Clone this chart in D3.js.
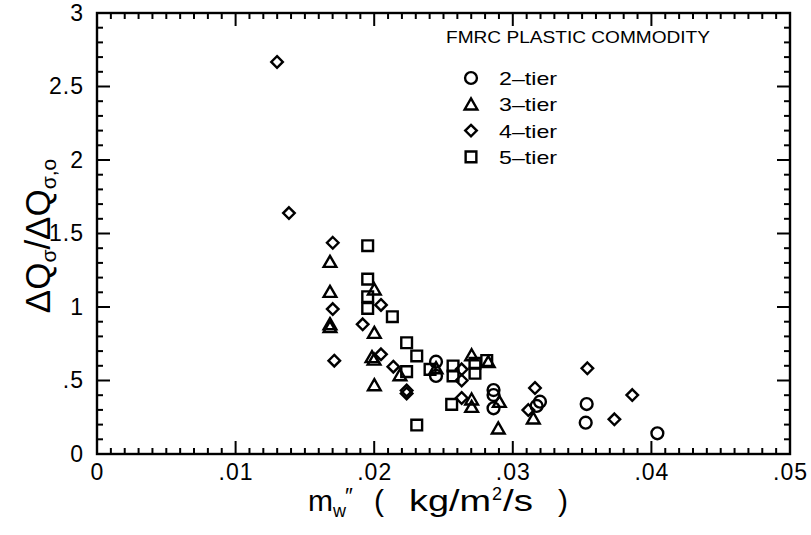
<!DOCTYPE html>
<html><head><meta charset="utf-8">
<script src="https://cdn.jsdelivr.net/npm/d3@7"></script>
<style>body{margin:0;background:#fff}svg{display:block}text{font-family:"Liberation Sans",Arial,sans-serif;fill:#000}</style>
</head><body><svg id="c" width="811" height="535"></svg>
<script>
// Data (x = m_w'' kg/m2/s, y = dQ/dQ0)
const tier2 = [[.02446,.628],[.02446,.531],[.02861,.435],[.02861,.401],[.02861,.311],[.03196,.356],[.03172,.327],[.03533,.340],[.03526,.213],[.04043,.141]];
const tier3 = [[.01681,1.308],[.01681,1.104],[.01681,.884],[.01681,.864],[.02001,1.12],[.02001,.825],[.01984,.66],[.01999,.643],[.02001,.469],[.02186,.537],[.02446,.585],[.02703,.673],[.02703,.372],[.02703,.322],[.02823,.626],[.02903,.356],[.02895,.175],[.03148,.243]];
const tier4 = [[.01299,2.667],[.01385,1.639],[.01701,1.437],[.01701,.986],[.01712,.635],[.02049,1.014],[.01917,.882],[.02049,.678],[.02138,.594],[.02234,.432],[.02234,.412],[.02631,.576],[.02631,.5],[.02631,.381],[.0316,.449],[.03112,.299],[.03538,.583],[.03733,.236],[.03862,.401]];
const tier5 = [[.01953,1.417],[.01953,1.19],[.01953,1.07],[.01953,.991],[.02131,.934],[.02234,.757],[.02307,.667],[.02234,.56],[.02403,.576],[.02307,.197],[.02569,.599],[.02569,.531],[.02559,.338],[.02727,.617],[.02727,.549],[.02812,.636]];
const seriesNames = ["2-tier","3-tier","4-tier","5-tier"];
const xTicks = [0,.01,.02,.03,.04,.05];
const xTickLabels = ["0",".01",".02",".03",".04",".05"];
const yTicks = [0,.5,1,1.5,2,2.5,3];
const yTickLabels = ["0",".5","1","1.5","2","2.5","3"];
const legendTitle = "FMRC  PLASTIC  COMMODITY";

const svg = d3.select("#c");
const L=97,R=790,T=13,B=454;
const x = d3.scaleLinear().domain([0,.05]).range([L,R]);
const y = d3.scaleLinear().domain([0,3]).range([B,T]);

const minorX = d3.range(0,51).map(i=>i*0.001);
const minorY = d3.range(0,31).map(i=>i*0.1);
function isMajorX(v){ return Math.abs(v*100-Math.round(v*100))<1e-6; }
function isMajorY(v){ return Math.abs(v*2-Math.round(v*2))<1e-6; }

svg.append("rect").attr("x",L).attr("y",T).attr("width",R-L).attr("height",B-T).attr("fill","none").attr("stroke","#000").attr("stroke-width",2.4);

// tick marks, inward, on all four sides
const tickG = svg.append("g").attr("stroke","#000").attr("stroke-width",2);
tickG.selectAll("line.bx").data(minorX).join("line").attr("class","bx")
  .attr("x1",d=>x(d)).attr("x2",d=>x(d)).attr("y1",B).attr("y2",d=>B-(isMajorX(d)?13:6));
tickG.selectAll("line.tx").data(minorX).join("line").attr("class","tx")
  .attr("x1",d=>x(d)).attr("x2",d=>x(d)).attr("y1",T).attr("y2",d=>T+(isMajorX(d)?13:6));
tickG.selectAll("line.ly").data(minorY).join("line").attr("class","ly")
  .attr("y1",d=>y(d)).attr("y2",d=>y(d)).attr("x1",L).attr("x2",d=>L+(isMajorY(d)?13:6));
tickG.selectAll("line.ry").data(minorY).join("line").attr("class","ry")
  .attr("y1",d=>y(d)).attr("y2",d=>y(d)).attr("x1",R).attr("x2",d=>R-(isMajorY(d)?13:6));

// tick labels via axes
const gx = svg.append("g").attr("transform",`translate(0,${B})`).call(d3.axisBottom(x).tickValues(xTicks).tickFormat((d,i)=>xTickLabels[i]).tickSize(0).tickPadding(10));
gx.select(".domain").remove();
gx.selectAll("text").attr("font-size",23).attr("letter-spacing",1).attr("fill","#000").attr("font-family","Liberation Sans, Arial, sans-serif");
const gy = svg.append("g").attr("transform",`translate(${L},0)`).call(d3.axisLeft(y).tickValues(yTicks).tickFormat((d,i)=>yTickLabels[i]).tickSize(0).tickPadding(13));
gy.select(".domain").remove();
gy.selectAll("text").attr("font-size",23).attr("letter-spacing",1).attr("fill","#000").attr("font-family","Liberation Sans, Arial, sans-serif");

// symbols
const sym = [d3.symbolCircle,d3.symbolTriangle,d3.symbolDiamond2,d3.symbolSquare];
const sizes = [110,70,85,115];
function symPath(i){ return d3.symbol().type(sym[i]).size(sizes[i])(); }
[tier2,tier3,tier4,tier5].forEach((data,i)=>{
  svg.append("g").selectAll("path").data(data).join("path")
    .attr("d",symPath(i))
    .attr("transform",d=>`translate(${x(d[0])},${y(d[1])+(i===1?1.5:0)})`)
    .attr("fill","none").attr("stroke","#000").attr("stroke-width",2.4);
});

// legend
svg.append("text").attr("x",446).attr("y",43).attr("font-size",17).attr("textLength",264).attr("lengthAdjust","spacingAndGlyphs").text(legendTitle);
seriesNames.forEach((n,i)=>{
  const yy = 78 + i*26.3;
  svg.append("path").attr("d",symPath(i)).attr("transform",`translate(471,${yy+(i===1?1.5:0)})`).attr("fill","none").attr("stroke","#000").attr("stroke-width",2.4);
  svg.append("text").attr("x",499).attr("y",yy+7).attr("font-size",19).attr("textLength",58).attr("lengthAdjust","spacingAndGlyphs").text(n.replace("-","\u2013"));
});

// x axis title
const xt = svg.append("g").attr("font-size",30);
xt.append("text").attr("x",308).attr("y",511).text("m");
xt.append("text").attr("x",333).attr("y",517).attr("font-size",18).text("w");
xt.append("text").attr("x",345).attr("y",503).attr("font-size",22).text("\u2033");
xt.append("text").attr("x",374).attr("y",511).text("(");
xt.append("text").attr("x",409).attr("y",511).attr("textLength",82).attr("lengthAdjust","spacingAndGlyphs").text("kg/m");
xt.append("text").attr("x",492).attr("y",500).attr("font-size",18).text("2");
xt.append("text").attr("x",503).attr("y",511).attr("textLength",30).attr("lengthAdjust","spacingAndGlyphs").text("/s");
xt.append("text").attr("x",558).attr("y",511).text(")");

// y axis title
const yt = svg.append("text").attr("transform","translate(50,236) rotate(-90)").attr("text-anchor","middle").attr("font-size",35);
yt.append("tspan").text("\u0394Q");
yt.append("tspan").attr("font-size",21).attr("dy",6).text("\u03c3");
yt.append("tspan").attr("dy",-6).text("/\u0394Q");
yt.append("tspan").attr("font-size",21).attr("dy",6).text("\u03c3,o");
</script></body></html>
